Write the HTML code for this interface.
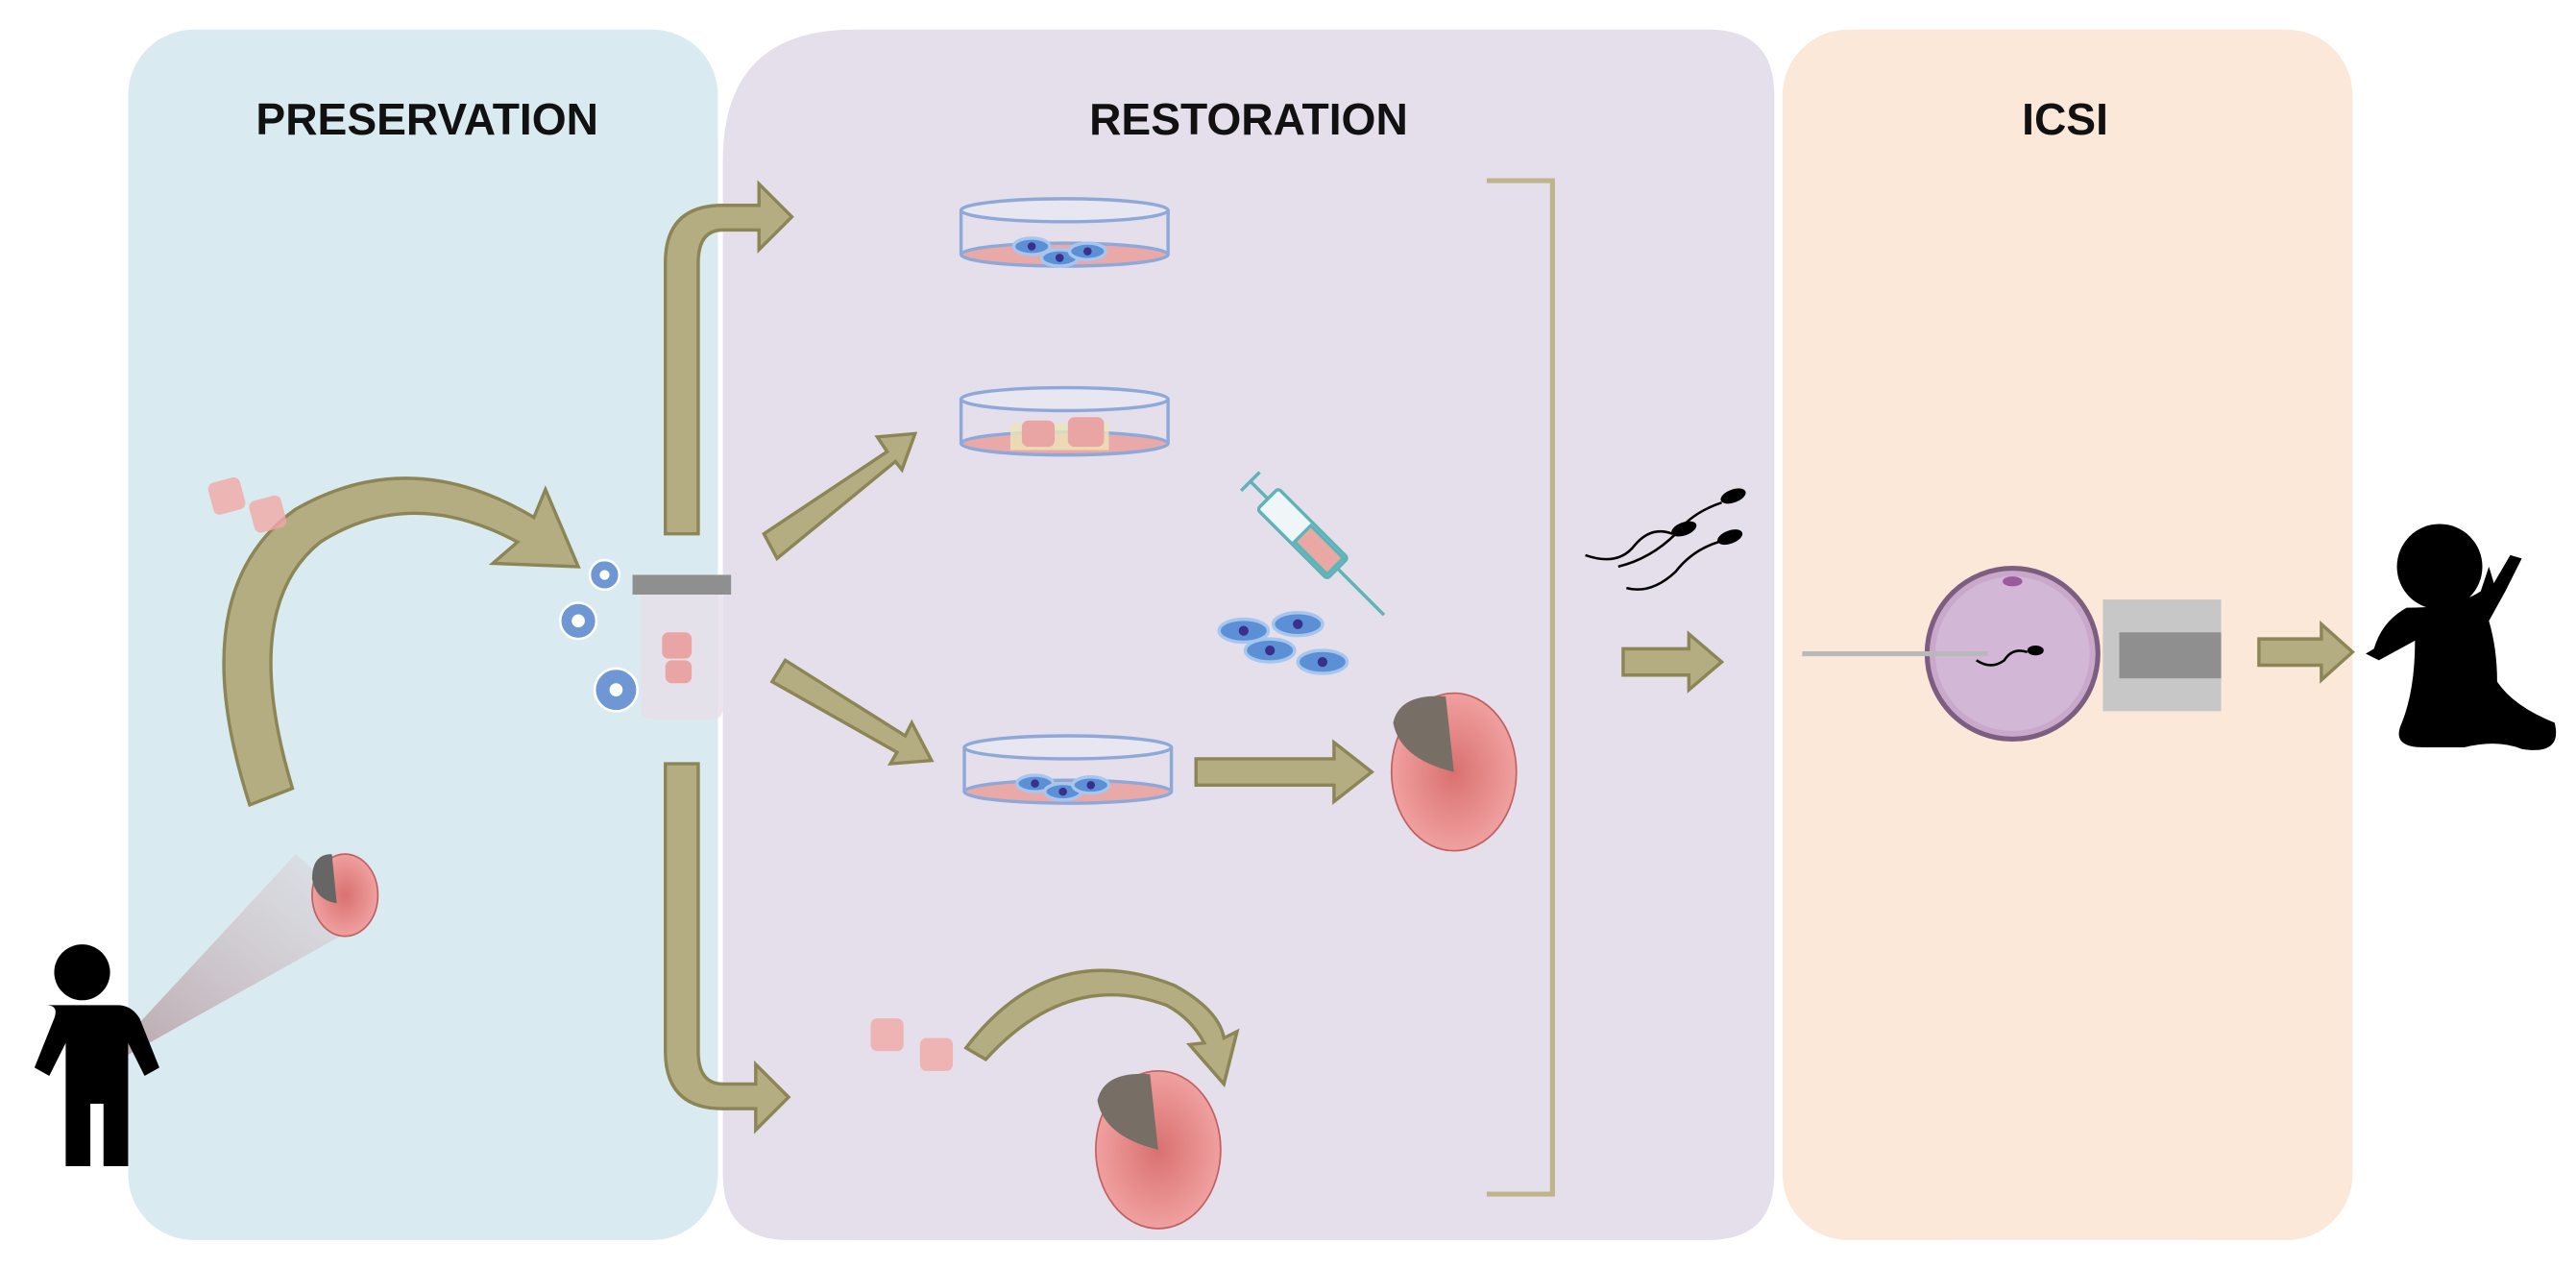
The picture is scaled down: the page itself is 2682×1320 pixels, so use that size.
<!DOCTYPE html>
<html><head><meta charset="utf-8"><style>
html,body{margin:0;padding:0;background:#fff;width:2682px;height:1320px;overflow:hidden}
svg{display:block}
text{font-family:"Liberation Sans",sans-serif;font-weight:bold;fill:#111}
</style></head><body>
<svg width="2682" height="1320" viewBox="0 0 1568 772" preserveAspectRatio="none" xmlns="http://www.w3.org/2000/svg">
<defs>
<radialGradient id="tes" cx="0.5" cy="0.5" r="0.5"><stop offset="0" stop-color="#d9716f"/><stop offset="1" stop-color="#f0a0a0"/></radialGradient>
<linearGradient id="beam" x1="0" y1="1" x2="1" y2="0"><stop offset="0" stop-color="#8a4a50" stop-opacity="0.8"/><stop offset="1" stop-color="#e8c8cc" stop-opacity="0.4"/></linearGradient>
</defs>
<rect x="78" y="18" width="359" height="737" rx="40" fill="#d9ebf1"/>
<path d="M520 18 H1040 Q1080 18 1080 58 V715 Q1080 755 1040 755 H480 Q440 755 440 715 V98 Q440 18 520 18Z" fill="#e4dfeb"/>
<rect x="1085" y="18" width="347" height="737" rx="40" fill="#fbe8d9"/>
<text x="260" y="82" font-size="27" text-anchor="middle">PRESERVATION</text>
<text x="760" y="82" font-size="27" text-anchor="middle">RESTORATION</text>
<text x="1257" y="82" font-size="27" text-anchor="middle">ICSI</text>
<path d="M905 110 H945 V727 H905" fill="none" stroke="#bfb58c" stroke-width="3"/>
<g fill="#b5ad82" stroke="#8c8556" stroke-width="2">
<path d="M405 325 V160 Q405 125 440 125 H462 V112 L482 132 L462 152 V140 H440 Q425 140 425 160 V325Z"/>
<path d="M405 465 V640 Q405 675 440 675 H460 V688 L480 668 L460 648 V660 H440 Q425 660 425 640 V465Z"/>
<path d="M465 325 L540 275 L534 266 L557 264 L549 286 L545 281 L473 340Z"/>
<path d="M470 415 L478 402 L551 448 L555 440 L567 463 L542 465 L546 458Z"/>
<path d="M728 462 H812 V452 L835 470 L812 488 V478 H728Z"/>
<path d="M988 395 H1028 V386 L1048 403 L1028 420 V411 H988Z"/>
<path d="M1375 389 H1413 V380 L1432 397 L1413 414 V405 H1375Z"/>
<path d="M152 490 Q110 360 180 310 Q250 270 325 315 L332 298 L352 345 L300 343 L315 330 Q250 295 195 330 Q145 370 178 480Z"/>
<path d="M588 638 Q640 570 715 600 Q742 615 745 632 L753 628 L745 660 L724 636 L733 635 Q725 620 710 612 Q650 590 600 645Z"/>
</g>
<g fill="none" stroke="#8ea9d8" stroke-width="2">
<ellipse cx="648" cy="128" rx="63" ry="7" fill="#e8e6f0"/>
<path d="M585 128 V155 M711 128 V155"/>
<ellipse cx="648" cy="155" rx="63" ry="7" fill="#e9a9a8"/>
<ellipse cx="648" cy="243" rx="63" ry="7" fill="#e8e6f0"/>
<path d="M585 243 V270 M711 243 V270"/>
<ellipse cx="648" cy="270" rx="63" ry="7" fill="#e9a9a8"/>
<ellipse cx="650" cy="455" rx="63" ry="7" fill="#e8e6f0"/>
<path d="M587 455 V482 M713 455 V482"/>
<ellipse cx="650" cy="482" rx="63" ry="7" fill="#e9a9a8"/>
</g>
<rect x="615" y="258" width="60" height="16" fill="#ece5b8" opacity="0.8"/>
<rect x="622" y="256" width="20" height="16" rx="4" fill="#e9a4a4"/><rect x="650" y="254" width="22" height="18" rx="4" fill="#e9a4a4"/>
<g fill="#5b8fd6" stroke="#a7c6ee" stroke-width="2">
<ellipse cx="628" cy="150" rx="11" ry="5"/><ellipse cx="645" cy="157" rx="11" ry="5"/><ellipse cx="662" cy="153" rx="11" ry="5"/>
<ellipse cx="630" cy="477" rx="11" ry="5"/><ellipse cx="647" cy="482" rx="11" ry="5"/><ellipse cx="664" cy="478" rx="11" ry="5"/>
<ellipse cx="757" cy="384" rx="15" ry="7"/><ellipse cx="790" cy="380" rx="15" ry="7"/><ellipse cx="773" cy="396" rx="15" ry="7"/><ellipse cx="805" cy="403" rx="15" ry="7"/>
</g>
<g fill="#3a2f8a">
<circle cx="628" cy="150" r="2.5"/><circle cx="645" cy="157" r="2.5"/><circle cx="662" cy="153" r="2.5"/>
<circle cx="630" cy="477" r="2.5"/><circle cx="647" cy="482" r="2.5"/><circle cx="664" cy="478" r="2.5"/>
<circle cx="757" cy="384" r="3"/><circle cx="790" cy="380" r="3"/><circle cx="773" cy="396" r="3"/><circle cx="805" cy="403" r="3"/>
</g>
<g transform="translate(800,332) rotate(45)" stroke="#5fb3b8" stroke-width="2" fill="#eef6f7">
<rect x="-40" y="-9" width="60" height="18" rx="2"/><rect x="-10" y="-7" width="28" height="14" fill="#e8a9a4"/>
<line x1="-55" y1="0" x2="-40" y2="0"/><line x1="-55" y1="-8" x2="-55" y2="8"/><line x1="20" y1="0" x2="60" y2="0"/>
</g>
<rect x="390" y="358" width="50" height="80" rx="6" fill="#e7dfe9" opacity="0.8"/>
<rect x="385" y="350" width="60" height="12" fill="#8f8f8f"/>
<rect x="403" y="385" width="18" height="16" rx="4" fill="#e9a4a4"/><rect x="405" y="402" width="16" height="14" rx="4" fill="#e9a4a4"/>
<g fill="#6f97d3" stroke="#fff" stroke-width="1.5">
<circle cx="368" cy="350" r="9"/><circle cx="352" cy="378" r="11"/><circle cx="375" cy="420" r="13"/>
</g>
<g fill="#fff"><circle cx="368" cy="350" r="3"/><circle cx="352" cy="378" r="4"/><circle cx="375" cy="420" r="4"/></g>
<rect x="128" y="292" width="20" height="20" rx="4" fill="#f0a9a6" opacity="0.8" transform="rotate(-15 138 302)"/>
<rect x="153" y="303" width="20" height="20" rx="4" fill="#f0a9a6" opacity="0.8" transform="rotate(-15 163 313)"/>
<rect x="530" y="620" width="20" height="20" rx="4" fill="#f0a9a6" opacity="0.8"/>
<rect x="560" y="632" width="20" height="20" rx="4" fill="#f0a9a6" opacity="0.8"/>
<polygon points="55,655 180,520 225,560" fill="url(#beam)" opacity="0.6"/>
<ellipse cx="210" cy="545" rx="20" ry="25" fill="url(#tes)" stroke="#c06060"/>
<path d="M190 535 Q190 520 202 520 L205 550 Q192 548 190 535Z" fill="#666"/>
<ellipse cx="885" cy="470" rx="38" ry="48" fill="url(#tes)" stroke="#c06060"/>
<path d="M848 440 Q852 422 880 424 L885 470 Q852 462 848 440Z" fill="#776f66"/>
<ellipse cx="705" cy="700" rx="38" ry="48" fill="url(#tes)" stroke="#c06060"/>
<path d="M668 670 Q672 652 700 654 L705 700 Q672 692 668 670Z" fill="#776f66"/>
<g fill="#000">
<circle cx="50" cy="592" r="17"/>
<path d="M28 612 H72 Q80 612 85 620 L97 650 L88 655 L78 635 V710 H63 V672 H55 V710 H40 V635 L30 655 L21 650 L33 620 Q36 612 28 612Z"/>
</g>
<g fill="#000"><ellipse cx="1025" cy="322" rx="8" ry="4" transform="rotate(-20 1025 322)"/><ellipse cx="1055" cy="302" rx="8" ry="4" transform="rotate(-20 1055 302)"/><ellipse cx="1053" cy="327" rx="8" ry="4" transform="rotate(-20 1053 327)"/></g>
<g fill="none" stroke="#000" stroke-width="1.5">
<path d="M1018 325 Q1005 320 995 332 Q985 345 965 338"/><path d="M1048 306 Q1030 312 1020 325 Q1005 340 985 345"/><path d="M1046 330 Q1030 335 1020 348 Q1005 362 990 358"/>
</g>
<rect x="1280" y="365" width="72" height="68" fill="#c7c7c7"/>
<rect x="1290" y="385" width="62" height="28" fill="#8f8f8f"/>
<circle cx="1225" cy="398" r="52" fill="#c9a8cc" stroke="#7d5d80" stroke-width="3"/>
<circle cx="1225" cy="398" r="47" fill="#d3b7d6"/>
<ellipse cx="1225" cy="354" rx="6" ry="3" fill="#9b5a9a"/>
<line x1="1097" y1="398" x2="1210" y2="398" stroke="#b9b9b9" stroke-width="3"/>
<ellipse cx="1239" cy="396" rx="5" ry="3" fill="#000"/>
<path d="M1234 397 Q1225 394 1220 402 Q1212 408 1203 402" fill="none" stroke="#000" stroke-width="1.5"/>
<g fill="#000">
<circle cx="1485" cy="345" r="26"/>
<path d="M1465 370 Q1450 378 1445 395 L1440 398 L1448 402 L1470 390 Q1470 420 1462 440 Q1455 455 1475 455 H1500 Q1520 450 1535 456 Q1560 460 1555 440 Q1530 430 1520 415 Q1520 395 1515 378 L1525 360 L1535 340 L1528 338 L1518 355 L1515 345 L1510 360 Q1495 370 1465 370Z"/>
</g>
</svg>
</body></html>
